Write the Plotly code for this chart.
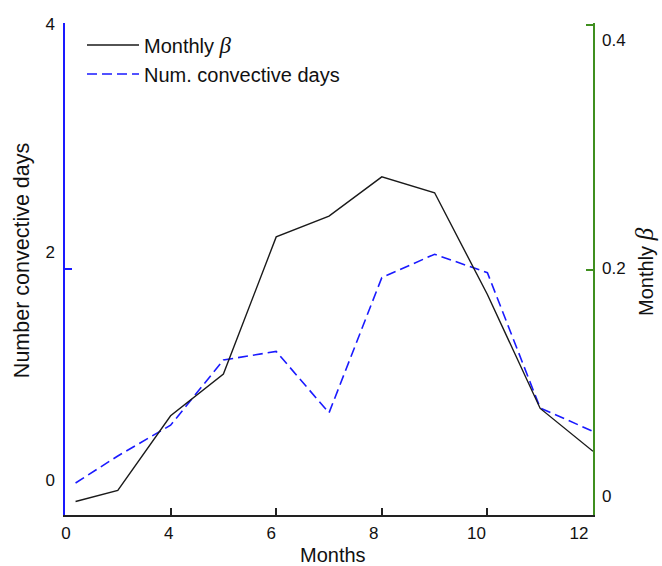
import plotly.graph_objects as go

# ---- data ----
months = [2.2, 3, 4, 5, 6, 7, 8, 9, 10, 11, 12]
monthly_beta = [0.011, 0.020, 0.081, 0.115, 0.227, 0.244, 0.276, 0.263, 0.180, 0.087, 0.052]
conv_days = [0.26, 0.48, 0.73, 1.26, 1.33, 0.83, 1.93, 2.12, 1.97, 0.87, 0.68]

x_tickvals = [2, 4, 6, 8, 10, 12]
x_ticktext = ["0", "4", "6", "8", "10", "12"]
left_tickvals = [0, 2, 4]
left_ticktext = ["0", "2", "4"]
right_tickvals = [0, 0.2, 0.4]
right_ticktext = ["0", "0.2", "0.4"]

FONT = "Liberation Sans, Arial, Helvetica, sans-serif"
BETA_LEG = "<span style=\"font-family:'Liberation Serif',serif;font-style:italic;font-size:23px\">β</span>"
BETA = "<span style=\"font-family:'Liberation Serif',serif;font-style:italic;font-size:25px\">β</span>"
BLUE = "#1a1aff"
GREEN = "#3f8f1f"
AX = "#222222"

fig = go.Figure()
fig.add_trace(go.Scatter(
    x=months, y=monthly_beta, mode="lines", name="Monthly " + BETA_LEG,
    line=dict(color="#1a1a1a", width=1.4), xaxis="x", yaxis="y2"))
fig.add_trace(go.Scatter(
    x=months, y=conv_days, mode="lines", name="Num. convective days",
    line=dict(color=BLUE, width=1.6, dash="10px,5px"), xaxis="x", yaxis="y"))
# empty helper traces so the label-only axes exist
fig.add_trace(go.Scatter(x=[], y=[], xaxis="x2", yaxis="y3", showlegend=False, hoverinfo="skip"))
fig.add_trace(go.Scatter(x=[], y=[], xaxis="x2", yaxis="y4", showlegend=False, hoverinfo="skip"))

common = dict(showgrid=False, zeroline=False, fixedrange=True)

fig.update_layout(
    width=662, height=566,
    margin=dict(l=65, r=69, t=23, b=51),
    paper_bgcolor="white", plot_bgcolor="white",
    font=dict(family=FONT, size=17, color="#111"),
    showlegend=True,
    legend=dict(x=0.0322, y=0.995, xanchor="left", yanchor="top",
                bgcolor="rgba(0,0,0,0)", font=dict(size=20, family=FONT),
                itemwidth=52, tracegroupgap=0),
    xaxis=dict(range=[2, 12], tickvals=x_tickvals, showticklabels=False,
               ticks="inside", ticklen=7, tickwidth=1.5, tickcolor=AX,
               showline=True, linecolor=AX, linewidth=2, anchor="y", **common),
    xaxis2=dict(range=[1.98, 12.273], overlaying="x", anchor="y", side="bottom",
                tickvals=x_tickvals, ticktext=x_ticktext, ticks="",
                showline=False, ticklabelstandoff=6, **common),
    yaxis=dict(range=[0, 4], tickvals=left_tickvals, showticklabels=False,
               ticks="inside", ticklen=7, tickwidth=1.5, tickcolor=BLUE,
               showline=True, linecolor=BLUE, linewidth=2, anchor="x", **common),
    yaxis2=dict(range=[0, 0.4016], overlaying="y", side="right", anchor="x",
                tickvals=right_tickvals, showticklabels=False,
                ticks="inside", ticklen=7, tickwidth=1.5, tickcolor=GREEN,
                showline=True, linecolor=GREEN, linewidth=2, **common),
    yaxis3=dict(range=[-0.3057, 4.005], overlaying="y", side="left", anchor="x2",
                tickvals=left_tickvals, ticktext=left_ticktext, ticks="",
                showline=False, ticklabelstandoff=9, **common),
    yaxis4=dict(range=[-0.01667, 0.4149], overlaying="y", side="right", anchor="x2",
                tickvals=right_tickvals, ticktext=right_ticktext, ticks="",
                showline=False, ticklabelstandoff=8, **common),
    annotations=[
        dict(text="Months", xref="paper", yref="paper", x=0.5085, y=-0.081,
             xanchor="center", yanchor="middle", showarrow=False,
             font=dict(size=20, family=FONT, color="#111")),
        dict(text="Number convective days", xref="paper", yref="paper",
             x=-0.0814, y=0.516, textangle=-90, xanchor="center", yanchor="middle",
             showarrow=False, font=dict(size=21.5, family=FONT, color="#111")),
        dict(text="Monthly " + BETA, xref="paper", yref="paper",
             x=1.0985, y=0.494, textangle=-90, xanchor="center", yanchor="middle",
             showarrow=False, font=dict(size=20, family=FONT, color="#111")),
    ],
)

fig.write_html("out.html")
